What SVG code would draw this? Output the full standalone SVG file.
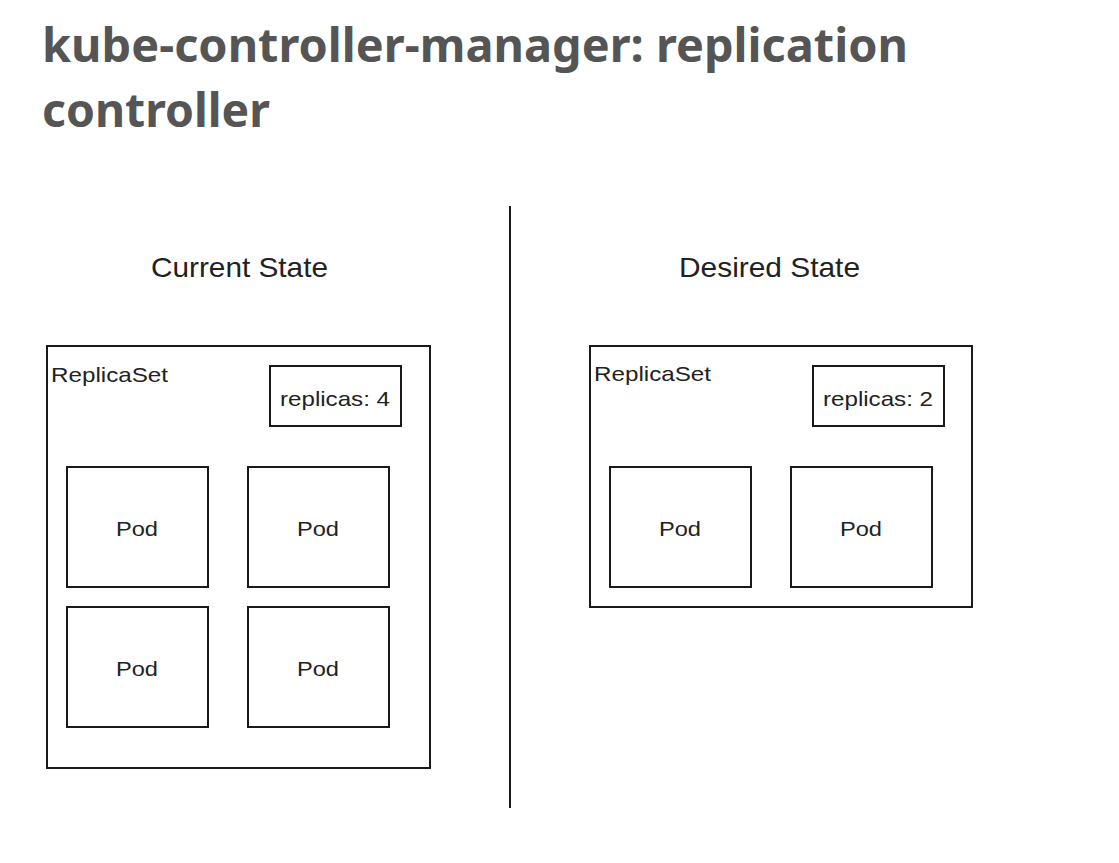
<svg xmlns="http://www.w3.org/2000/svg" width="1119" height="863" viewBox="0 0 1119 863">
<style>
.title{font-family:"Noto Sans","Open Sans",sans-serif;font-weight:700;font-size:47px;fill:#555555}
.box{fill:#ffffff;stroke:#1a1a1a;stroke-width:2}
.hdr{font-family:"Liberation Sans",Arial,sans-serif;font-size:28px;fill:#222222;text-anchor:middle}
.lbl{font-family:"Liberation Sans",Arial,sans-serif;font-size:21px;fill:#222222}
.c{text-anchor:middle}
</style>
<rect width="1119" height="863" fill="#ffffff"/>
<text class="title" x="42" y="62" textLength="866" lengthAdjust="spacingAndGlyphs">kube-controller-manager: replication</text>
<text class="title" x="42" y="127" textLength="228" lengthAdjust="spacingAndGlyphs">controller</text>
<g id="connectors">
<line x1="510" y1="206" x2="510" y2="808" stroke="#1a1a1a" stroke-width="2"/>
</g>
<text class="hdr" x="239.5" y="277" textLength="177" lengthAdjust="spacingAndGlyphs">Current State</text>
<text class="hdr" x="769.5" y="277" textLength="181" lengthAdjust="spacingAndGlyphs">Desired State</text>
<g id="current-replicaset">
<rect class="box" x="47" y="346" width="383" height="422"/>
<text class="lbl" x="51" y="382" textLength="117" lengthAdjust="spacingAndGlyphs">ReplicaSet</text>
</g>
<g id="current-replicas">
<rect class="box" x="270" y="366" width="131" height="60"/>
<text class="lbl c" x="335" y="406" textLength="110" lengthAdjust="spacingAndGlyphs">replicas: 4</text>
</g>
<g id="current-pod1"><rect class="box" x="67" y="467" width="141" height="120"/><text class="lbl c" x="137" y="536" textLength="42" lengthAdjust="spacingAndGlyphs">Pod</text></g>
<g id="current-pod2"><rect class="box" x="248" y="467" width="141" height="120"/><text class="lbl c" x="318" y="536" textLength="42" lengthAdjust="spacingAndGlyphs">Pod</text></g>
<g id="current-pod3"><rect class="box" x="67" y="607" width="141" height="120"/><text class="lbl c" x="137" y="676" textLength="42" lengthAdjust="spacingAndGlyphs">Pod</text></g>
<g id="current-pod4"><rect class="box" x="248" y="607" width="141" height="120"/><text class="lbl c" x="318" y="676" textLength="42" lengthAdjust="spacingAndGlyphs">Pod</text></g>
<g id="desired-replicaset">
<rect class="box" x="590" y="346" width="382" height="261"/>
<text class="lbl" x="594" y="381" textLength="117" lengthAdjust="spacingAndGlyphs">ReplicaSet</text>
</g>
<g id="desired-replicas">
<rect class="box" x="813" y="366" width="131" height="60"/>
<text class="lbl c" x="878" y="406" textLength="110" lengthAdjust="spacingAndGlyphs">replicas: 2</text>
</g>
<g id="desired-pod1"><rect class="box" x="610" y="467" width="141" height="120"/><text class="lbl c" x="680" y="536" textLength="42" lengthAdjust="spacingAndGlyphs">Pod</text></g>
<g id="desired-pod2"><rect class="box" x="791" y="467" width="141" height="120"/><text class="lbl c" x="861" y="536" textLength="42" lengthAdjust="spacingAndGlyphs">Pod</text></g>
</svg>
